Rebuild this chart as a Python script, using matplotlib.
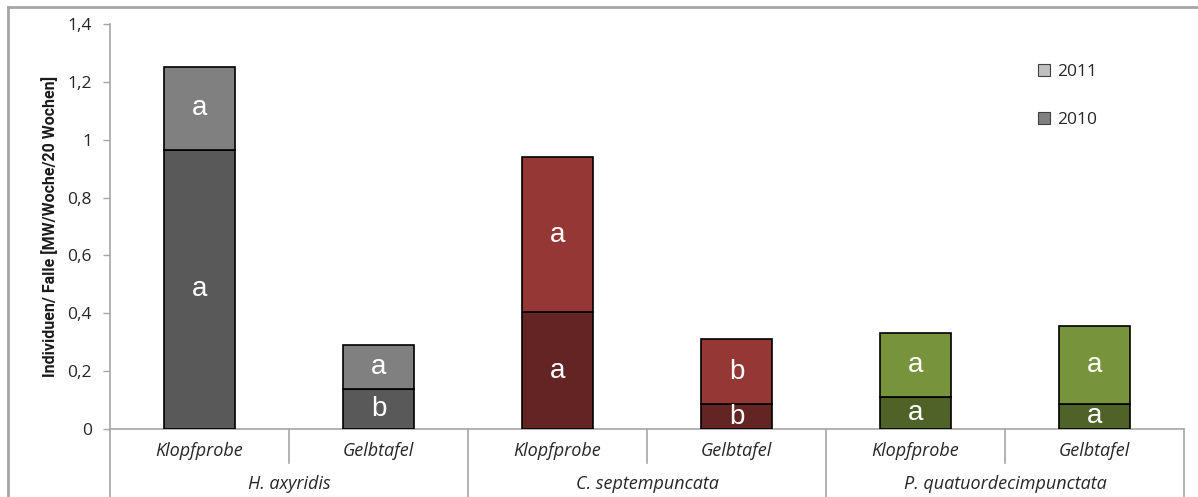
import matplotlib
matplotlib.use("Agg")
import matplotlib.pyplot as plt
from matplotlib.patches import Patch
from matplotlib.lines import Line2D
import numpy as np

# Data
species = ["H. axyridis", "C. septempuncata", "P. quatuordecimpunctata"]
methods = ["Klopfprobe", "Gelbtafel"]
values_2010 = [0.965, 0.138, 0.403, 0.086, 0.110, 0.088]
values_total = [1.251, 0.290, 0.940, 0.311, 0.333, 0.357]
letters_2010 = ["a", "b", "a", "b", "a", "a"]
letters_2011 = ["a", "a", "a", "b", "a", "a"]
yticks = [0, 0.2, 0.4, 0.6, 0.8, 1.0, 1.2, 1.4]
ytick_labels = ["0", "0,2", "0,4", "0,6", "0,8", "1", "1,2", "1,4"]

colors_2010 = ["#595959", "#595959", "#632523", "#632523", "#4F6228", "#4F6228"]
colors_2011 = ["#808080", "#808080", "#953735", "#953735", "#77933C", "#77933C"]

values_2011 = [t - b for t, b in zip(values_total, values_2010)]

W, H = 1198, 497
fig = plt.figure(figsize=(W / 100, H / 100), dpi=100)
ax = fig.add_axes([110 / W, (H - 429) / H, (1184 - 110) / W, (429 - 24) / H])

x = np.arange(len(values_2010))
bw = 0.40
ax.bar(x, values_2010, width=bw, color=colors_2010, edgecolor="black", linewidth=1.2, zorder=3)
ax.bar(x, values_2011, width=bw, bottom=values_2010, color=colors_2011,
       edgecolor="black", linewidth=1.2, zorder=3)

letter_font = dict(family="Liberation Sans", fontsize=20, color="white", ha="center", va="center", zorder=4)
for xi, b, t, l0, l1 in zip(x, values_2010, values_2011, letters_2010, letters_2011):
    ax.text(xi, b / 2, l0, **letter_font)
    ax.text(xi, b + t / 2, l1, **letter_font)

ax.set_xlim(-0.5, len(x) - 0.5)
ax.set_ylim(0, 1.4)
ax.set_yticks(yticks)
ax.set_yticklabels(ytick_labels, fontsize=12.5, color="#262626", family="Open Sans")
ax.tick_params(axis="y", direction="out", length=5, color="#A6A6A6", width=1, pad=8)
ax.tick_params(axis="x", bottom=False, labelbottom=False)
for s in ["top", "right"]:
    ax.spines[s].set_visible(False)
for s in ["left", "bottom"]:
    ax.spines[s].set_color("#A6A6A6")
    ax.spines[s].set_linewidth(1.2)

ax.set_ylabel("Individuen/ Falle [MW/Woche/20 Wochen]", family="Roboto",
              fontsize=11.5, fontweight="bold", color="#1a1a1a", labelpad=7)

# Two-level category axis
trans = ax.get_xaxis_transform()
ax_h = 429 - 24
line_kw = dict(color="#A6A6A6", linewidth=1.2, transform=trans, clip_on=False)
for i in range(len(x) + 1):
    xe = i - 0.5
    if i % 2 == 0:
        ax.add_line(Line2D([xe, xe], [0, -80 / ax_h], **line_kw))
    else:
        ax.add_line(Line2D([xe, xe], [0, -34 / ax_h], **line_kw))

cat_font = dict(family="Open Sans", style="italic", fontsize=13, color="#262626",
                ha="center", va="center", transform=trans)
for i, xi in enumerate(x):
    ax.text(xi, -22 / ax_h, methods[i % 2], **cat_font)
for g, name in enumerate(species):
    ax.text(2 * g + 0.5, -55 / ax_h, name, **cat_font)

# Legend
handles = [Patch(facecolor="#BFBFBF", edgecolor="#404040", linewidth=0.8, label="2011"),
           Patch(facecolor="#808080", edgecolor="#404040", linewidth=0.8, label="2010")]
leg = fig.legend(handles=handles, loc="upper left", bbox_to_anchor=(1022 / W, 1 - 48 / H),
                 frameon=False, handlelength=0.7, handleheight=0.7, handletextpad=0.4,
                 labelspacing=1.85, prop={"family": "Open Sans", "size": 12.5})
for t in leg.get_texts():
    t.set_color("#262626")

# Outer frame
fig.add_artist(Line2D([8 / W, 1], [1 - 7 / H, 1 - 7 / H], transform=fig.transFigure,
                      color="#A6A6A6", linewidth=2))
fig.add_artist(Line2D([8 / W, 8 / W], [0, 1 - 7 / H], transform=fig.transFigure,
                      color="#A6A6A6", linewidth=2))

fig.savefig("out.png", dpi=100)
